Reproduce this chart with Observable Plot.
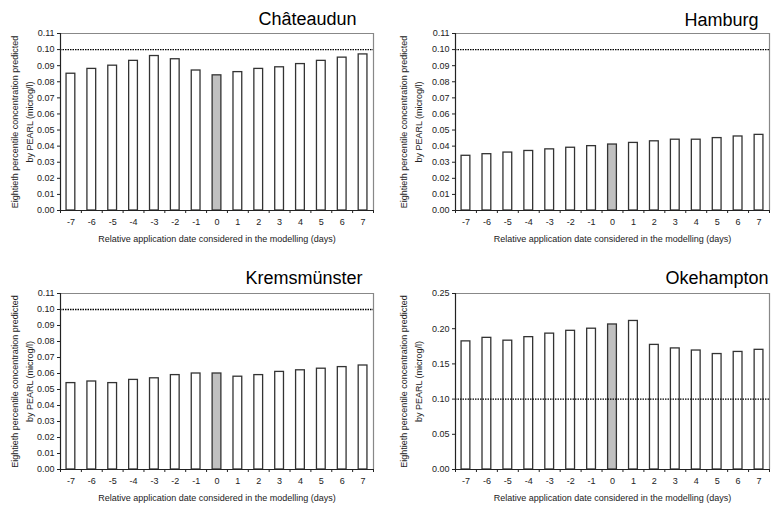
<!DOCTYPE html>
<html>
<head>
<meta charset="utf-8">
<script src="https://cdn.jsdelivr.net/npm/d3@7"></script>
<script src="https://cdn.jsdelivr.net/npm/@observablehq/plot@0.6"></script>
<style>
  html, body { margin: 0; padding: 0; background: #fff; }
  #root { position: relative; width: 775px; height: 505px; overflow: hidden; font-family: "Liberation Sans", Arial, sans-serif; }
  .panel { position: absolute; }
</style>
</head>
<body>
<div id="root"></div>
<script>
// ---- data ----
const days = [-7, -6, -5, -4, -3, -2, -1, 0, 1, 2, 3, 4, 5, 6, 7];
const chateaudun = [0.085, 0.088, 0.090, 0.093, 0.096, 0.094, 0.087, 0.084, 0.086, 0.088, 0.089, 0.091, 0.093, 0.095, 0.097];
const hamburg = [0.034, 0.035, 0.036, 0.037, 0.038, 0.039, 0.040, 0.041, 0.042, 0.043, 0.044, 0.044, 0.045, 0.046, 0.047];
const kremsmunster = [0.054, 0.055, 0.054, 0.056, 0.057, 0.059, 0.060, 0.060, 0.058, 0.059, 0.061, 0.062, 0.063, 0.064, 0.065];
const okehampton = [0.182, 0.187, 0.183, 0.188, 0.193, 0.197, 0.200, 0.206, 0.211, 0.177, 0.172, 0.169, 0.164, 0.167, 0.170];
const smallTicks = [0, 0.01, 0.02, 0.03, 0.04, 0.05, 0.06, 0.07, 0.08, 0.09, 0.10, 0.11];
const bigTicks = [0, 0.05, 0.10, 0.15, 0.20, 0.25];
const threshold = 0.1;
const xTitle = "Relative application date considered in the modelling (days)";
const yTitle = "Eightieth percentile concentration predicted\nby PEARL (microg/l)";

const panels = [
  {name: "Châteaudun", values: chateaudun, yMax: 0.11, ticks: smallTicks, left: 0, top: 0, h: 250, ml: 60, mr: 14, mt: 33, mb: 40, tdx: -17, tdy: -9},
  {name: "Hamburg", values: hamburg, yMax: 0.11, ticks: smallTicks, left: 388, top: 0, h: 250, ml: 67, mr: 6, mt: 33, mb: 40, tdx: -11, tdy: -8},
  {name: "Kremsmünster", values: kremsmunster, yMax: 0.11, ticks: smallTicks, left: 0, top: 260, h: 245, ml: 60, mr: 14, mt: 33, mb: 36, tdx: -11, tdy: -10},
  {name: "Okehampton", values: okehampton, yMax: 0.25, ticks: bigTicks, left: 388, top: 260, h: 245, ml: 67, mr: 6, mt: 33, mb: 36, tdx: -1, tdy: -10}
];

const boundaries = days.map(d => d - 0.5).concat([days[days.length - 1] + 0.5]);
const root = document.getElementById("root");

for (const p of panels) {
  const data = days.map((d, i) => ({day: d, v: p.values[i]}));
  const chart = Plot.plot({
    width: 387,
    height: p.h,
    marginLeft: p.ml,
    marginRight: p.mr,
    marginTop: p.mt,
    marginBottom: p.mb,
    style: {fontFamily: "Liberation Sans, Arial, sans-serif", fontSize: "9px", color: "#222", background: "white"},
    x: {domain: [boundaries[0], boundaries[boundaries.length - 1]], axis: null},
    y: {domain: [0, p.yMax], axis: null},
    marks: [
      Plot.rectY(data, {
        x1: d => d.day - 0.21, x2: d => d.day + 0.21, y1: 0, y2: "v",
        fill: d => d.day === 0 ? "#c0c0c0" : "white",
        stroke: "#333", strokeWidth: 1.3
      }),
      Plot.ruleY([threshold], {stroke: "#000", strokeWidth: 1.3, strokeDasharray: "1.5,1"}),
      Plot.ruleY([p.yMax], {stroke: "#888", strokeWidth: 1.2}),
      Plot.ruleX([boundaries[boundaries.length - 1]], {stroke: "#888", strokeWidth: 1.2}),
      Plot.ruleX([boundaries[0]], {stroke: "#222", strokeWidth: 1.2}),
      Plot.ruleY([0], {stroke: "#222", strokeWidth: 1.2}),
      Plot.axisY({ticks: p.ticks, tickFormat: d3.format(".2f"), tickSize: 3, tickPadding: 3, label: null, stroke: "#222", fill: "#222"}),
      Plot.axisX({ticks: boundaries, tickFormat: () => "", tickSize: 3, label: null, stroke: "#222"}),
      Plot.axisX({ticks: days, tickFormat: d => String(d), tickSize: 0, tickPadding: 8, label: null, fill: "#222"}),
      Plot.text([p.name], {frameAnchor: "top-right", dx: p.tdx, dy: p.tdy, lineAnchor: "bottom", fontSize: 18, fontWeight: 400, fill: "#000", textAnchor: "end"}),
      Plot.text([xTitle], {frameAnchor: "bottom", dy: 25, lineAnchor: "top", fontSize: 9, fill: "#222"}),
      Plot.text([yTitle], {frameAnchor: "left", dx: -(p.ml - 20.5 - (p.ml - 60) * 0.1), rotate: -90, lineAnchor: "middle", lineHeight: 1.65, fontSize: 9, fill: "#222", textAnchor: "middle"})
    ]
  });
  const div = document.createElement("div");
  div.className = "panel";
  div.style.left = p.left + "px";
  div.style.top = p.top + "px";
  div.appendChild(chart);
  root.appendChild(div);
}
</script>
</body>
</html>
